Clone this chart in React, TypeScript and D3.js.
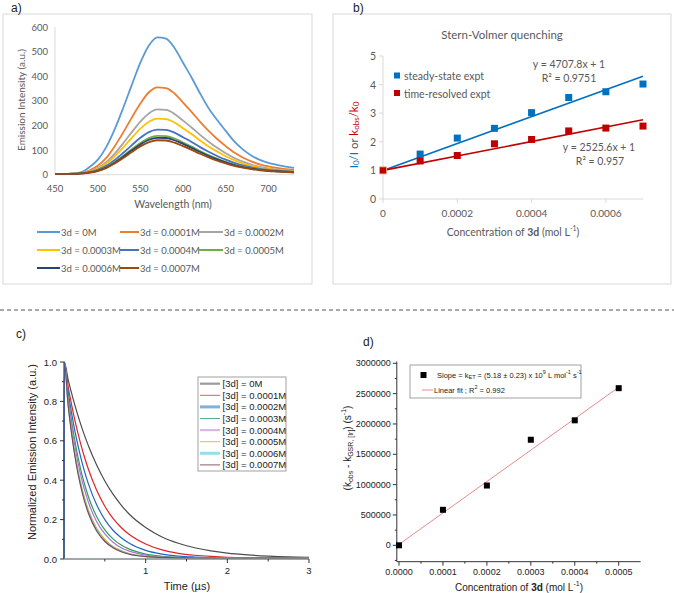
import React from 'react';
import * as d3 from 'd3';

// ---------- Panel a: emission spectra ----------
const wavelengths = [450, 460, 470, 480, 490, 500, 510, 520, 530, 540, 550, 560, 570, 580, 590, 600, 610, 620, 630, 640, 650, 660, 670, 680, 690, 700, 710, 720, 730];
const em0M = [3, 3, 4, 9, 30, 60, 112, 185, 272, 365, 455, 525, 558, 553, 515, 455, 395, 330, 270, 222, 178, 135, 103, 78, 60, 48, 40, 33, 28];
const em1 = [3, 3, 4, 7, 17, 36, 68, 116, 172, 232, 289, 335, 355, 352, 330, 293, 255, 215, 178, 145, 116, 90, 70, 54, 42, 34, 28, 23, 20];
const em2 = [3, 3, 4, 6, 13, 27, 51, 86, 128, 173, 216, 249, 265, 263, 247, 220, 192, 162, 134, 109, 87, 68, 53, 41, 32, 26, 21, 18, 15];
const em3 = [3, 3, 4, 6, 12, 24, 45, 75, 111, 150, 187, 215, 228, 226, 212, 189, 165, 139, 115, 94, 75, 59, 46, 36, 28, 23, 19, 16, 14];
const em4 = [3, 3, 4, 5, 10, 20, 36, 60, 89, 120, 150, 173, 183, 182, 171, 152, 133, 112, 93, 76, 61, 48, 38, 30, 24, 20, 17, 14, 12];
const em5 = [3, 3, 3, 5, 9, 17, 31, 52, 77, 104, 129, 149, 158, 157, 147, 131, 114, 96, 80, 65, 52, 41, 32, 26, 21, 17, 14, 12, 11];
const em6 = [3, 3, 3, 5, 8, 16, 29, 49, 73, 99, 123, 142, 150, 149, 140, 125, 109, 92, 76, 62, 50, 39, 31, 25, 20, 16, 14, 12, 10];
const em7 = [3, 3, 3, 4, 8, 15, 27, 46, 68, 92, 115, 132, 140, 139, 130, 116, 101, 85, 70, 57, 46, 36, 29, 23, 18, 15, 13, 11, 10];
const emSeries = [em0M, em1, em2, em3, em4, em5, em6, em7];
const emLabels = ['3d = 0M', '3d = 0.0001M', '3d = 0.0002M', '3d = 0.0003M', '3d = 0.0004M', '3d = 0.0005M', '3d = 0.0006M', '3d = 0.0007M'];
const emColors = ['#5B9BD5', '#ED7D31', '#A5A5A5', '#FFC000', '#4472C4', '#70AD47', '#264478', '#9E480E'];
const emYTicks = [0, 100, 200, 300, 400, 500, 600];
const emXTicks = [450, 500, 550, 600, 650, 700];

// ---------- Panel b: Stern-Volmer ----------
const svConc = [0, 0.0001, 0.0002, 0.0003, 0.0004, 0.0005, 0.0006, 0.0007];
const svSteady = [1, 1.57, 2.13, 2.47, 3.02, 3.55, 3.75, 4.02];
const svTime = [1, 1.33, 1.52, 1.93, 2.08, 2.38, 2.48, 2.55];
const svSteadySlope = 4707.8;
const svTimeSlope = 2525.6;
const svIntercept = 1;
const svYTicks = [0, 1, 2, 3, 4, 5];
const svXTicks = [0, 0.0002, 0.0004, 0.0006];

// ---------- Panel c: decays ----------
const decayTimes = [0, 0.004, 0.05, 0.1, 0.15, 0.2, 0.25, 0.3, 0.4, 0.5, 0.6, 0.7, 0.8, 1.0, 1.2, 1.4, 1.6, 1.8, 2.0, 2.25, 2.5, 2.75, 3.0];
const decay0M = [0, 1, 0.912, 0.831, 0.757, 0.69, 0.629, 0.574, 0.477, 0.396, 0.329, 0.274, 0.227, 0.16, 0.112, 0.08, 0.057, 0.041, 0.03, 0.021, 0.015, 0.011, 0.009];
const decay1 = [0, 1, 0.877, 0.769, 0.674, 0.591, 0.518, 0.454, 0.349, 0.268, 0.206, 0.16, 0.124, 0.076, 0.046, 0.029, 0.019, 0.013, 0.009, 0.007, 0.006, 0.005, 0.005];
const decay2 = [0, 1, 0.851, 0.724, 0.616, 0.525, 0.446, 0.38, 0.275, 0.2, 0.146, 0.108, 0.08, 0.044, 0.025, 0.015, 0.01, 0.007, 0.006, 0.005, 0.005, 0.005, 0.004];
const decay3 = [0, 1, 0.825, 0.681, 0.562, 0.463, 0.382, 0.315, 0.215, 0.148, 0.102, 0.071, 0.05, 0.025, 0.014, 0.009, 0.007, 0.005, 0.005, 0.004, 0.004, 0.004, 0.004];
const decay4 = [0, 1, 0.812, 0.659, 0.535, 0.435, 0.353, 0.287, 0.189, 0.127, 0.085, 0.057, 0.04, 0.02, 0.011, 0.008, 0.006, 0.005, 0.005, 0.004, 0.004, 0.004, 0.004];
const decay5 = [0, 1, 0.792, 0.628, 0.498, 0.394, 0.313, 0.248, 0.156, 0.1, 0.064, 0.043, 0.028, 0.014, 0.009, 0.007, 0.005, 0.005, 0.004, 0.004, 0.004, 0.004, 0.004];
const decay6 = [0, 1, 0.788, 0.621, 0.49, 0.386, 0.304, 0.24, 0.149, 0.094, 0.06, 0.04, 0.026, 0.013, 0.008, 0.006, 0.005, 0.005, 0.004, 0.004, 0.004, 0.004, 0.004];
const decay7 = [0, 1, 0.784, 0.614, 0.481, 0.377, 0.295, 0.231, 0.142, 0.089, 0.057, 0.037, 0.024, 0.012, 0.008, 0.006, 0.005, 0.004, 0.004, 0.004, 0.004, 0.004, 0.004];
const decaySeries = [decay0M, decay1, decay2, decay3, decay4, decay5, decay6, decay7];
const decayLabels = ['[3d] = 0M', '[3d] = 0.0001M', '[3d] = 0.0002M', '[3d] = 0.0003M', '[3d] = 0.0004M', '[3d] = 0.0005M', '[3d] = 0.0006M', '[3d] = 0.0007M'];
const decayColors = ['#4d4d4d', '#e02424', '#2364c4', '#2e9e5c', '#a774d6', '#d9b12a', '#6ccbd9', '#7a4a55'];
const decayLegendColors = ['#9a9a9a', '#e05a5a', '#7fb0e2', '#52b27a', '#d9b8e8', '#e0bb50', '#93e0ea', '#8a5c68'];
const decayLegendWidths = [2.2, 1, 3, 1, 2.2, 1, 3, 1];
const decayYTicks = [0, 0.2, 0.4, 0.6, 0.8, 1.0];
const decayXTicks = [1, 2, 3];

// ---------- Panel d: kobs - kGSR ----------
const kConc = [0, 0.0001, 0.0002, 0.0003, 0.0004, 0.0005];
const kDiff = [0, 585000, 985000, 1740000, 2060000, 2590000];
const kSlope = 5.18e9;
const kIntercept = 15000;
const kYTicks = [0, 500000, 1000000, 1500000, 2000000, 2500000, 3000000];
const kXTicks = [0, 0.0001, 0.0002, 0.0003, 0.0004, 0.0005];

const XL = 'Lato, "Open Sans", sans-serif';
const AR = '"Liberation Sans", Arial, sans-serif';
const GRAY = '#595959';

function PanelA() {
  const x = d3.scaleLinear().domain([450, 730]).range([55, 294]);
  const y = d3.scaleLinear().domain([0, 600]).range([174.7, 27]);
  const line = d3.line<number>().x((_, i) => x(wavelengths[i])).y(d => y(d)).curve(d3.curveMonotoneX);
  const legendPos = [
    [37, 232], [120, 232], [198, 232],
    [37, 250], [120, 250], [198, 250],
    [37, 268], [120, 268],
  ];
  const lineLen = [23, 19, 25, 23, 19, 25, 23, 19];
  return (
    <g>
      <rect x={3} y={14} width={309} height={270} fill="white" stroke="#d9d9d9" strokeWidth={1} />
      <text x={11} y={12} fontFamily={AR} fontSize={12} fill="#222">a)</text>
      <line x1={55} x2={55} y1={y(600)} y2={y(0)} stroke="#d9d9d9" />
      <line x1={55} x2={294} y1={y(0)} y2={y(0)} stroke="#d9d9d9" />
      {emYTicks.map(t => (
        <text key={t} x={48} y={y(t)} textAnchor="end" dominantBaseline="central" fontFamily={XL} fontSize={9.5} fill={GRAY}>{t}</text>
      ))}
      {emXTicks.map(t => (
        <text key={t} x={x(t)} y={188} textAnchor="middle" dominantBaseline="central" fontFamily={XL} fontSize={9.5} fill={GRAY}>{t}</text>
      ))}
      <text transform={`translate(21,${100}) rotate(-90)`} textAnchor="middle" dominantBaseline="central" fontFamily={XL} fontSize={10} fill={GRAY}>Emission Intensity (a.u.)</text>
      <text x={173} y={204} textAnchor="middle" dominantBaseline="central" fontFamily={XL} fontSize={10.5} fill={GRAY}>Wavelength (nm)</text>
      {emSeries.map((s, i) => (
        <path key={i} d={line(s) || ''} fill="none" stroke={emColors[i]} strokeWidth={1.8} />
      ))}
      {emLabels.map((lab, i) => (
        <g key={lab}>
          <line x1={legendPos[i][0]} x2={legendPos[i][0] + lineLen[i]} y1={legendPos[i][1]} y2={legendPos[i][1]} stroke={emColors[i]} strokeWidth={2} />
          <text x={legendPos[i][0] + lineLen[i] + 1} y={legendPos[i][1]} dominantBaseline="central" fontFamily={XL} fontSize={9.5} fill={GRAY}>{lab}</text>
        </g>
      ))}
    </g>
  );
}

function PanelB() {
  const x = d3.scaleLinear().domain([0, 0.0007]).range([383, 643]);
  const y = d3.scaleLinear().domain([0, 5]).range([199, 56]);
  const blue = '#0070C0';
  const red = '#C00000';
  const fmt = (v: number) => (v === 0 ? '0' : v.toFixed(4));
  return (
    <g>
      <rect x={333} y={14} width={338} height={270} fill="white" stroke="#d9d9d9" strokeWidth={1} />
      <text x={353} y={12} fontFamily={AR} fontSize={12} fill="#222">b)</text>
      <text x={502} y={34} textAnchor="middle" dominantBaseline="central" fontFamily={XL} fontSize={11.5} fill={GRAY}>Stern-Volmer quenching</text>
      <line x1={383} x2={383} y1={y(5)} y2={y(0)} stroke="#d9d9d9" />
      <line x1={383} x2={643} y1={y(0)} y2={y(0)} stroke="#d9d9d9" />
      {svYTicks.map(t => (
        <g key={t}>
          <line x1={379} x2={383} y1={y(t)} y2={y(t)} stroke="#d9d9d9" />
          <text x={376} y={y(t)} textAnchor="end" dominantBaseline="central" fontFamily={XL} fontSize={10.5} fill={GRAY}>{t}</text>
        </g>
      ))}
      {svXTicks.map(t => (
        <g key={t}>
          <line x1={x(t)} x2={x(t)} y1={y(0)} y2={y(0) + 4} stroke="#d9d9d9" />
          <text x={x(t)} y={213} textAnchor="middle" dominantBaseline="central" fontFamily={XL} fontSize={10} fill={GRAY}>{fmt(t)}</text>
        </g>
      ))}
      <text x={513} y={232} textAnchor="middle" dominantBaseline="central" fontFamily={XL} fontSize={10.5} fill={GRAY}>
        Concentration of <tspan fontWeight="bold">3d</tspan> (mol L<tspan dy={-4} fontSize={7}>-1</tspan><tspan dy={4}>)</tspan>
      </text>
      <text transform={`translate(353,${135}) rotate(-90)`} textAnchor="middle" dominantBaseline="central" fontFamily={XL} fontSize={11.5}>
        <tspan fill={blue}>I</tspan><tspan fill={blue} dy={3} fontSize={8}>0</tspan><tspan fill={blue} dy={-3}>/I</tspan>
        <tspan fill={GRAY}>  or  </tspan>
        <tspan fill={red}>k</tspan><tspan fill={red} dy={3} fontSize={8}>obs</tspan><tspan fill={red} dy={-3}>/k</tspan><tspan fill={red} dy={3} fontSize={8}>0</tspan>
      </text>
      <line x1={x(0)} x2={x(0.0007)} y1={y(svIntercept)} y2={y(svIntercept + svSteadySlope * 0.0007)} stroke={blue} strokeWidth={1.6} />
      <line x1={x(0)} x2={x(0.0007)} y1={y(svIntercept)} y2={y(svIntercept + svTimeSlope * 0.0007)} stroke={red} strokeWidth={1.6} />
      {svConc.map((c, i) => (
        <rect key={'s' + i} x={x(c) - 3.5} y={y(svSteady[i]) - 3.5} width={7} height={7} fill={blue} />
      ))}
      {svConc.map((c, i) => (
        <rect key={'t' + i} x={x(c) - 3.5} y={y(svTime[i]) - 3.5} width={7} height={7} fill={red} stroke={i === 0 ? '#f4b183' : 'none'} strokeWidth={0.8} />
      ))}
      <rect x={394} y={72.5} width={6} height={6} fill={blue} />
      <text x={404} y={76} dominantBaseline="central" fontFamily={XL} fontSize={10.5} fill={GRAY}>steady-state expt</text>
      <rect x={394} y={90} width={6} height={6} fill={red} />
      <text x={404} y={93.5} dominantBaseline="central" fontFamily={XL} fontSize={10.5} fill={GRAY}>time-resolved expt</text>
      <text x={569} y={64} textAnchor="middle" dominantBaseline="central" fontFamily={XL} fontSize={10.5} fill={GRAY}>y = 4707.8x + 1</text>
      <text x={569} y={78} textAnchor="middle" dominantBaseline="central" fontFamily={XL} fontSize={10.5} fill={GRAY}>R² = 0.9751</text>
      <text x={599} y={147} textAnchor="middle" dominantBaseline="central" fontFamily={XL} fontSize={10.5} fill={GRAY}>y = 2525.6x + 1</text>
      <text x={600} y={161} textAnchor="middle" dominantBaseline="central" fontFamily={XL} fontSize={10.5} fill={GRAY}>R² = 0.957</text>
    </g>
  );
}

function PanelC() {
  const x = d3.scaleLinear().domain([0, 3]).range([64, 309]);
  const y = d3.scaleLinear().domain([0, 1]).range([559, 362]);
  const line = d3.line<number>().x((_, i) => x(decayTimes[i])).y(d => y(d)).curve(d3.curveMonotoneX);
  const minorY = d3.range(0.1, 1.0, 0.2);
  const minorX = [0.5, 1.5, 2.5];
  return (
    <g>
      <text x={16} y={338} fontFamily={AR} fontSize={12} fill="#222">c)</text>
      {decaySeries.map((s, i) => (
        <path key={i} d={line(s) || ''} fill="none" stroke={decayColors[i]} strokeWidth={1.2} />
      ))}
      <line x1={64} x2={64} y1={y(1.0)} y2={y(0)} stroke="#2a5aa8" strokeWidth={1.3} />
      <line x1={64} x2={309} y1={y(0)} y2={y(0)} stroke="#7f8c8c" strokeWidth={1.6} />
      {decayYTicks.map(t => (
        <g key={t}>
          <line x1={60} x2={64} y1={y(t)} y2={y(t)} stroke="#333" />
          <text x={57} y={y(t)} textAnchor="end" dominantBaseline="central" fontFamily={AR} fontSize={9.5} fill="#222">{t.toFixed(1)}</text>
        </g>
      ))}
      {minorY.map(t => (
        <line key={t} x1={62} x2={64} y1={y(t)} y2={y(t)} stroke="#333" />
      ))}
      {decayXTicks.map(t => (
        <g key={t}>
          <line x1={x(t)} x2={x(t)} y1={559} y2={563} stroke="#333" />
          <text x={x(t)} y={570} textAnchor="middle" dominantBaseline="central" fontFamily={AR} fontSize={9.5} fill="#222">{t}</text>
        </g>
      ))}
      {minorX.map(t => (
        <line key={t} x1={x(t)} x2={x(t)} y1={559} y2={561.5} stroke="#333" />
      ))}
      <text x={187} y={586} textAnchor="middle" dominantBaseline="central" fontFamily={AR} fontSize={11} fill="#222">Time (µs)</text>
      <text transform={`translate(32,${452}) rotate(-90)`} textAnchor="middle" dominantBaseline="central" fontFamily={AR} fontSize={11} fill="#222">Normalized Emission Intensity (a.u.)</text>
      <rect x={198} y={377} width={88} height={94} fill="white" stroke="#8a8a8a" strokeWidth={0.8} />
      {decayLabels.map((lab, i) => (
        <g key={lab}>
          <line x1={200} x2={220} y1={383.7 + i * 11.6} y2={383.7 + i * 11.6} stroke={decayLegendColors[i]} strokeWidth={decayLegendWidths[i]} />
          <text x={222.5} y={383.7 + i * 11.6} dominantBaseline="central" fontFamily={AR} fontSize={9.5} fill="#222">{lab}</text>
        </g>
      ))}
    </g>
  );
}

function PanelD() {
  const x = d3.scaleLinear().domain([0, 0.0005]).range([399, 618.7]);
  const y = d3.scaleLinear().domain([0, 3000000]).range([545.3, 363.3]);
  const x0 = x(-0.000005);
  const x1 = x(0.00055);
  const yb = y(-270000);
  const yt = y(3030000);
  const minorY = d3.range(-250000, 3000001, 250000).filter(v => v % 500000 !== 0);
  const minorX = d3.range(0.00005, 0.00055, 0.0001);
  return (
    <g>
      <text x={363} y={346} fontFamily={AR} fontSize={12} fill="#222">d)</text>
      <line x1={x0} x2={x0} y1={yt} y2={yb} stroke="#333" />
      <line x1={x0} x2={x1} y1={yb} y2={yb} stroke="#333" />
      {kYTicks.map(t => (
        <g key={t}>
          <line x1={x0 - 4} x2={x0} y1={y(t)} y2={y(t)} stroke="#333" />
          <text x={x0 - 6} y={y(t)} textAnchor="end" dominantBaseline="central" fontFamily={AR} fontSize={9} fill="#222">{t}</text>
        </g>
      ))}
      {minorY.map(t => (
        <line key={t} x1={x0 - 2} x2={x0} y1={y(t)} y2={y(t)} stroke="#333" />
      ))}
      {kXTicks.map(t => (
        <g key={t}>
          <line x1={x(t)} x2={x(t)} y1={yb} y2={yb + 4} stroke="#333" />
          <text x={x(t)} y={572} textAnchor="middle" dominantBaseline="central" fontFamily={AR} fontSize={9} fill="#222">{t.toFixed(4)}</text>
        </g>
      ))}
      {minorX.map(t => (
        <line key={t} x1={x(t)} x2={x(t)} y1={yb} y2={yb + 2} stroke="#333" />
      ))}
      <text x={519} y={587} textAnchor="middle" dominantBaseline="central" fontFamily={AR} fontSize={10} fill="#222">
        Concentration of <tspan fontWeight="bold">3d</tspan>  (mol L<tspan dy={-4} fontSize={7}>-1</tspan><tspan dy={4}>)</tspan>
      </text>
      <text transform={`translate(347,${448}) rotate(-90)`} textAnchor="middle" dominantBaseline="central" fontFamily={AR} fontSize={10} fill="#222">
        (k<tspan dy={3} fontSize={7}>obs</tspan><tspan dy={-3}> - k</tspan><tspan dy={3} fontSize={7}>GSR, [Ir]</tspan><tspan dy={-3}>)  (s</tspan><tspan dy={-4} fontSize={7}>-1</tspan><tspan dy={4}>)</tspan>
      </text>
      <line x1={x(0)} x2={x(0.0005)} y1={y(kIntercept)} y2={y(kIntercept + kSlope * 0.0005)} stroke="#e8898c" strokeWidth={1} />
      {kConc.map((c, i) => (
        <rect key={i} x={x(c) - 3} y={y(kDiff[i]) - 3} width={6} height={6} fill="#000" />
      ))}
      <rect x={410} y={365} width={171} height={33} fill="white" stroke="#8a8a8a" strokeWidth={0.8} />
      <rect x={420.5} y={372} width={6} height={6} fill="#000" />
      <text x={437} y={375} dominantBaseline="central" fontFamily={AR} fontSize={7.5} fill="#222">
        Slope = k<tspan dy={2} fontSize={5.5}>ET</tspan><tspan dy={-2}> = (5.18 ± 0.23) x 10</tspan><tspan dy={-3} fontSize={5.5}>9</tspan><tspan dy={3}> L mol</tspan><tspan dy={-3} fontSize={5.5}>-1</tspan><tspan dy={3}> s</tspan><tspan dy={-3} fontSize={5.5}>-1</tspan>
      </text>
      <line x1={422} x2={433} y1={390} y2={390} stroke="#e8898c" strokeWidth={1} />
      <text x={434} y={390} dominantBaseline="central" fontFamily={AR} fontSize={7.5} fill="#222">
        Linear fit ;  R<tspan dy={-3} fontSize={5.5}>2</tspan><tspan dy={3}> = 0.992</tspan>
      </text>
    </g>
  );
}

export default function App() {
  return (
    <svg width={674} height={593} viewBox="0 0 674 593" style={{ position: 'absolute', left: 0, top: 0, background: 'white' }}>
      <rect x={0} y={0} width={674} height={593} fill="white" />
      <PanelA />
      <PanelB />
      <line x1={0} x2={674} y1={310} y2={310} stroke="#555" strokeWidth={1} strokeDasharray="4,3" />
      <PanelC />
      <PanelD />
    </svg>
  );
}
